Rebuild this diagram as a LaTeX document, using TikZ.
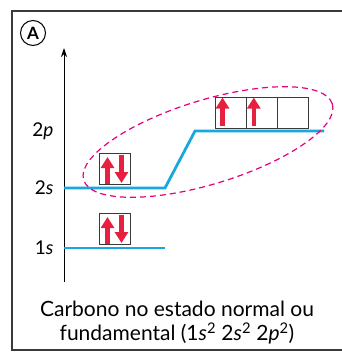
\documentclass[tikz,border=0pt]{standalone}
\usepackage{fontspec}
\setmainfont{Lato}
\usetikzlibrary{calc,arrows.meta}

\definecolor{nivel}{HTML}{1AA7E0}
\definecolor{spin}{HTML}{E8203F}
\definecolor{tracado}{HTML}{E4007F}
\definecolor{moldura}{HTML}{3A3A3A}

\tikzset{
  orbital/.style={draw=moldura, line width=1pt, minimum width=31pt, minimum height=31pt, inner sep=0pt},
  eletron/.style={spin, line width=4.5pt, -{Triangle[width=13pt,length=11pt]}},
  energia/.style={nivel, line width=2.8pt},
}

\begin{document}
\begin{tikzpicture}[x=1pt, y=-1pt, font=\fontsize{19}{24}\selectfont]
			\useasboundingbox (0,0) rectangle (342,361);
			\coordinate (T1) at (342,11);
			\coordinate (T2) at (12,11);
			\coordinate (T3) at (12,350);
			\coordinate (T4) at (342,350);
			\draw[moldura, line width=1.8pt] (T1)--(T2)--(T3)--(T4);
			
			\node[draw, circle, line width=1pt, minimum size=25pt, inner sep=0pt, font=\fontsize{17}{17}\selectfont\bfseries] (letra) at (33,33) {A};
			
			\coordinate (O) at (64,282);
			\coordinate (Y) at (64,48);
			\draw[line width=1pt, -{Stealth[length=9pt,width=6pt]}] (O)--(Y);
			
			\coordinate (S1a) at (64,248);
			\coordinate (S1b) at (165,248);
			\coordinate (S2a) at (64,188);
			\coordinate (S2b) at (165,188);
			\coordinate (P2a) at (195,131);
			\coordinate (P2b) at (324,131);
			
			\draw[energia] (S1a)--(S1b);
			\draw[energia] (S2a)--(S2b)--(P2a)--(P2b);
			
			\foreach \p/\l in {S1a/1\textit{s}, S2a/2\textit{s}, P2a/2\textit{p}} {
				\node[anchor=east] at (57,0 |- \p) {\l};
			}
			
			\node[orbital] (o1s) at (114.5,229) {};
			\node[orbital] (o2s) at (114.5,169) {};
			\node[orbital] (o2px) at (230.5,112.5) {};
			\node[orbital] (o2py) at (261.8,112.5) {};
			\node[orbital] (o2pz) at (293.1,112.5) {};
			
			\foreach \o in {o1s, o2s} {
				\draw[eletron] ($(\o.south)+(-7,-1)$)--($(\o.north)+(-7,4)$);
				\draw[eletron] ($(\o.north)+(7,2)$)--($(\o.south)+(7,-2)$);
			}
			\foreach \o in {o2px, o2py} {
				\draw[eletron] ($(\o.south)+(-8,-3)$)--($(\o.north)+(-8,1)$);
			}
			
			\coordinate (C) at (208,142);
			\draw[tracado, line width=1.2pt, dash pattern=on 6pt off 4pt, rotate around={17:(C)}] (C) ellipse (130 and 42);
			
			\node[align=center, font=\fontsize{21}{24}\selectfont] (legenda) at (177,323) {Carbono no estado normal ou\\fundamental (1\textit{s}\textsuperscript{2} 2\textit{s}\textsuperscript{2} 2\textit{p}\textsuperscript{2})};
		\end{tikzpicture}
\end{document}
